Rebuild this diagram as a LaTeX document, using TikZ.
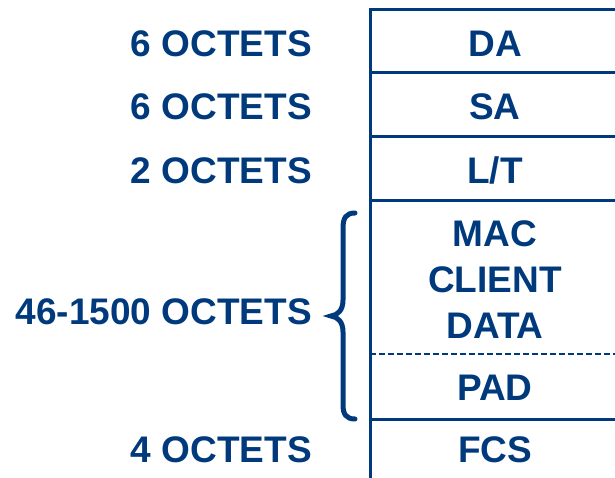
\documentclass[tikz,border=0pt]{standalone}
\usepackage{fontspec}
\setmainfont{Liberation Sans}
\definecolor{framecol}{RGB}{0,58,124}
\tikzset{
  lbl/.style={anchor=base east,inner sep=0pt,text=framecol,font=\bfseries\fontsize{37}{46}\selectfont},
  fld/.style={anchor=base,inner sep=0pt,text=framecol,font=\bfseries\fontsize{37}{46}\selectfont,align=center},
  rule/.style={draw=framecol,line width=3pt}
}
\begin{document}
\begin{tikzpicture}[x=1pt,y=-1pt]
\pgfmathsetmacro{\xl}{370}
\pgfmathsetmacro{\xr}{615}
\pgfmathsetmacro{\xm}{495}
\pgfmathsetmacro{\xt}{312}
\useasboundingbox(0,0)rectangle(615,478);
% frame
\draw[rule](\xl,478)--(\xl,10)--(\xr,10);
\foreach \y in {73,137,201,419}
  \draw[rule](\xl,\y)--(\xr,\y);
\draw[draw=framecol,line width=2.2pt,dash pattern=on 6pt off 3pt](\xl,354)--(\xr,354);
% fields
\node[fld](da)at(\xm,57){DA};
\node[fld](sa)at(\xm,120){SA};
\node[fld](lt)at(\xm,184){L/T};
\node[fld,anchor=center](data)at(\xm,279.5){MAC\\CLIENT\\DATA};
\node[fld](pad)at(\xm,400){PAD};
\node[fld](fcs)at(\xm,462){FCS};
% sizes
\node[lbl](sda)at(\xt,57){6 OCTETS};
\node[lbl](ssa)at(\xt,120){6 OCTETS};
\node[lbl](slt)at(\xt,184){2 OCTETS};
\node[lbl](sdata)at(\xt,324){46-1500 OCTETS};
\node[lbl](sfcs)at(\xt,462){4 OCTETS};
% brace
\draw[draw=framecol,line width=5pt,line cap=round]
  (355,213) .. controls (346,213) and (343,218) .. (343,228)
  --(343,300) .. controls (343,310) and (338,315) .. (331,316)
  .. controls (338,317) and (343,322) .. (343,332)
  --(343,405) .. controls (343,414) and (346,419) .. (355,419);
\end{tikzpicture}
\end{document}
